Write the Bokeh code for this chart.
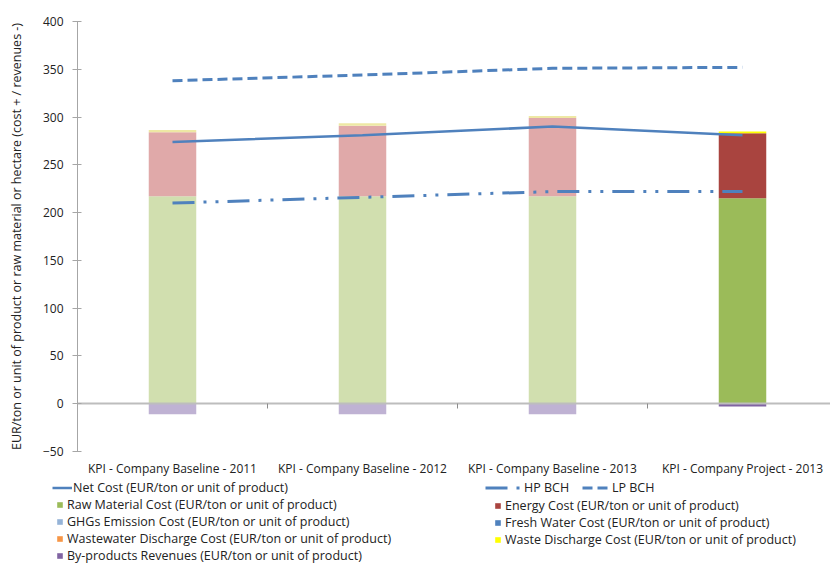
from bokeh.plotting import figure
from bokeh.models import ColumnDataSource, Range1d, FixedTicker, Legend, LegendItem
from bokeh.embed import file_html
from bokeh.resources import INLINE

# ---------------- data ----------------
categories = ["KPI - Company Baseline - 2011", "KPI - Company Baseline - 2012",
              "KPI - Company Baseline - 2013", "KPI - Company Project - 2013"]
raw_material = [217, 217, 217, 215]
energy = [67, 74, 82, 68]
ghg_emission = [0, 0, 0, 0]
fresh_water = [0, 0, 0, 0]
wastewater = [0, 0, 0, 0]
waste_discharge = [2.5, 2.5, 2, 2]
byproducts = [-11, -11, -11, -3]
net_cost = [274, 281, 290, 281]
hp_bch = [210, 216, 222, 222]
lp_bch = [338, 344, 351, 352]
y_ticks = [-50, 0, 50, 100, 150, 200, 250, 300, 350, 400]

# ---------------- style / layout ----------------
FONT = "Open Sans"
BLUE = "#4F81BD"
TXT = "#222222"
AXIS = "#A6A6A6"
W, H = 830, 563
AXIS_LEFT_PX = 77             # pixel column of the y axis
AXIS_TOP_PX, AXIS_BOTTOM_PX = 21, 451   # pixel rows of the top / bottom y ticks
CAT_PX = 190                  # pixel width of one category slot

# the plot frame covers the whole canvas so labels & legends are not clipped
px_per_unit = (AXIS_BOTTOM_PX - AXIS_TOP_PX) / (y_ticks[-1] - y_ticks[0])
y_start = y_ticks[0] - (H - AXIS_BOTTOM_PX) / px_per_unit
y_end = y_ticks[-1] + AXIS_TOP_PX / px_per_unit
x_axis_start = -0.5
x_start = x_axis_start - AXIS_LEFT_PX / CAT_PX
x_end = x_axis_start + (W - AXIS_LEFT_PX) / CAT_PX

idx = list(range(len(categories)))
project = ["Project" in c for c in categories]


def shade(faded, solid):
    return [solid if pr else faded for pr in project]


src = ColumnDataSource(dict(
    x=idx, raw=raw_material, energy=energy, ghg=ghg_emission, fresh=fresh_water,
    wastewater=wastewater, waste=waste_discharge, by=byproducts,
    net=net_cost, hp=hp_bch, lp=lp_bch,
    c_raw=shade("#D1DFAF", "#9BBB59"),
    c_energy=shade("#E0A9A9", "#A9443F"),
    c_ghg=shade("#CCD9EB", "#95B3D7"),
    c_fresh=shade("#A7C0DE", "#4F81BD"),
    c_wastewater=shade("#FBCBA3", "#F79646"),
    c_waste=shade("#EEE8A4", "#FFFF00"),
    c_by=shade("#BFB2D3", "#8064A2"),
))

p = figure(width=W, height=H, output_backend="svg", toolbar_location=None,
           x_range=Range1d(x_start, x_end), y_range=Range1d(y_start, y_end),
           min_border_left=0, min_border_right=0, min_border_top=0,
           min_border_bottom=0)
p.grid.visible = False
p.outline_line_color = None
p.background_fill_color = "white"

stack_keys = ["raw", "energy", "ghg", "fresh", "wastewater", "waste"]
stack_r = p.vbar_stack(stack_keys, x="x", width=0.25, source=src,
                       fill_color=["c_" + k for k in stack_keys], line_color=None)
by_r = p.vbar(x="x", top=0, bottom="by", width=0.25, source=src,
              fill_color="c_by", line_color=None)

net_r = p.line("x", "net", source=src, line_color=BLUE, line_width=2.5)
hp_r = p.line("x", "hp", source=src, line_color=BLUE, line_width=3,
              line_dash="22 9 3 9 3 9")
lp_r = p.line("x", "lp", source=src, line_color=BLUE, line_width=3,
              line_dash="10 5")

# y axis
ya = p.yaxis[0]
ya.fixed_location = x_axis_start
ya.ticker = FixedTicker(ticks=y_ticks)
ya.bounds = (y_ticks[0], y_ticks[-1])
ya.axis_label = "EUR/ton or unit of product or raw material or hectare (cost + / revenues -)"
ya.axis_label_text_font = FONT
ya.axis_label_text_font_size = "12.5px"
ya.axis_label_text_font_style = "normal"
ya.axis_label_text_color = TXT
ya.axis_label_standoff = 15
ya.major_label_text_font = FONT
ya.major_label_text_font_size = "12px"
ya.major_label_text_color = TXT
ya.major_label_standoff = 9
ya.axis_line_color = AXIS
ya.major_tick_line_color = AXIS
ya.major_tick_in = 4
ya.major_tick_out = 5
ya.minor_tick_line_color = None

# x axis (drawn along y = 0)
xa = p.xaxis[0]
xa.fixed_location = 0
xa.bounds = (x_axis_start, x_end)
xa.ticker = FixedTicker(ticks=idx, minor_ticks=[i + 0.5 for i in idx[:-1]])
xa.major_label_overrides = {i: c for i, c in zip(idx, categories)}
xa.major_label_text_font = FONT
xa.major_label_text_font_size = "12px"
xa.major_label_text_color = TXT
xa.major_label_standoff = 51
xa.major_tick_line_color = None
xa.major_tick_out = 0
xa.major_tick_in = 0
xa.minor_tick_line_color = "#8C8C8C"
xa.minor_tick_in = 0
xa.minor_tick_out = 5
xa.axis_line_color = "#BDBDBD"
xa.axis_line_width = 2

# legends (positions in canvas pixels: left edge of glyph, top of first row)
r_raw, r_energy, r_ghg, r_fresh, r_ww, r_waste = stack_r
last = len(categories) - 1
ROW_H = 17


def add_legend(items, left, top, gw, gh, standoff, spacing=-1):
    n = len(items)
    bottom = top + n * ROW_H + (n - 1) * spacing
    lg = Legend(items=items, location=(left, H - bottom),
                orientation="vertical", glyph_width=gw, glyph_height=gh,
                label_height=ROW_H, label_standoff=standoff, spacing=spacing,
                padding=0, margin=0, border_line_color=None,
                background_fill_alpha=0, label_text_font=FONT,
                label_text_font_size="12.5px", label_text_color=TXT)
    p.add_layout(lg)


add_legend([LegendItem(label="Net Cost (EUR/ton or unit of product)", renderers=[net_r])],
           52, 479, 20, 15, 1)
add_legend([LegendItem(label="HP BCH", renderers=[hp_r])], 485, 479, 35, 15, 4)
add_legend([LegendItem(label="LP BCH", renderers=[lp_r])], 582, 479, 28, 15, 2)
add_legend([
    LegendItem(label="Raw Material Cost (EUR/ton or unit of product)", renderers=[r_raw], index=last),
    LegendItem(label="GHGs Emission Cost (EUR/ton or unit of product)", renderers=[r_ghg], index=last),
    LegendItem(label="Wastewater Discharge Cost (EUR/ton or unit of product)", renderers=[r_ww], index=last),
    LegendItem(label="By-products Revenues (EUR/ton or unit of product)", renderers=[by_r], index=last),
], 56, 498.5, 7, 7, 4)
add_legend([
    LegendItem(label="Energy Cost (EUR/ton or unit of product)", renderers=[r_energy], index=last),
    LegendItem(label="Fresh Water Cost (EUR/ton or unit of product)", renderers=[r_fresh], index=last),
    LegendItem(label="Waste Discharge Cost (EUR/ton or unit of product)", renderers=[r_waste], index=last),
], 494, 498.5, 7, 7, 4)

open("out.html", "w").write(file_html(p, INLINE))
